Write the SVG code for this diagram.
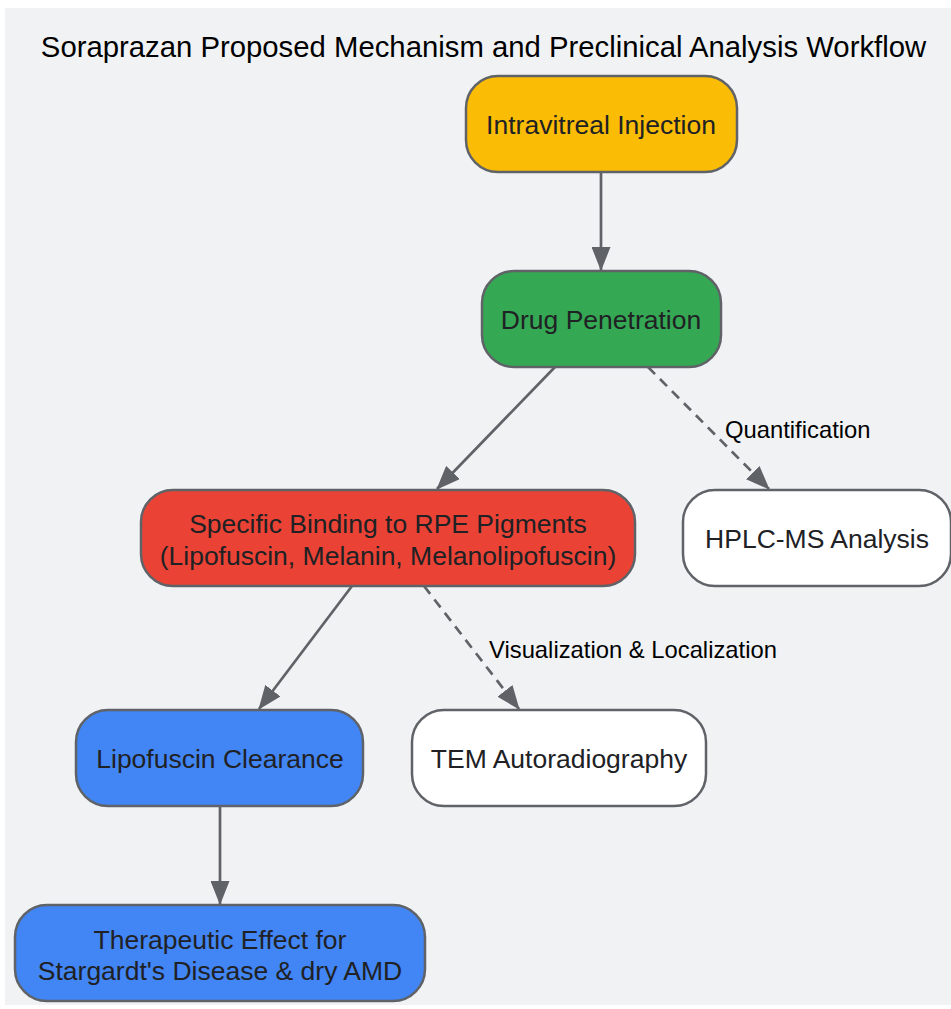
<svg xmlns="http://www.w3.org/2000/svg" width="951" height="1009" viewBox="0 0 951 1009">
<defs>
<style>
.node rect{stroke:#5F6368;stroke-width:2.5}
.nt{font-family:"Liberation Sans",Arial,sans-serif;font-size:26.5px;fill:#202124;text-anchor:middle}
.title{font-family:"Liberation Sans",Arial,sans-serif;font-size:29.3px;fill:#000;text-anchor:middle}
.el{font-family:"Liberation Sans",Arial,sans-serif;font-size:23.8px;fill:#000}
.edge{stroke:#5F6368;stroke-width:2.7;fill:none}
.dash{stroke-dasharray:10,7}
</style>
<marker id="arr" viewBox="0 0 24 19" refX="23" refY="9.5" markerWidth="24" markerHeight="19" markerUnits="userSpaceOnUse" orient="auto">
<path d="M0,0 L24,9.5 L0,19 z" fill="#5F6368"/>
</marker>
</defs>
<rect x="0" y="0" width="951" height="1009" fill="#fff"/>
<rect x="5" y="8" width="946" height="997" fill="#F1F2F4"/>
<text class="title" x="483.5" y="57">Soraprazan Proposed Mechanism and Preclinical Analysis Workflow</text>
<g id="connectors">
<line class="edge" x1="601" y1="172" x2="601" y2="270" marker-end="url(#arr)"/>
<line class="edge" x1="555" y1="367" x2="437" y2="489" marker-end="url(#arr)"/>
<line class="edge dash" x1="648" y1="367" x2="769" y2="489" marker-end="url(#arr)"/>
<line class="edge" x1="352" y1="586" x2="259" y2="709" marker-end="url(#arr)"/>
<line class="edge dash" x1="424" y1="586" x2="519" y2="709" marker-end="url(#arr)"/>
<line class="edge" x1="220" y1="806" x2="220" y2="904" marker-end="url(#arr)"/>
<text class="el" x="725" y="438">Quantification</text>
<text class="el" x="489" y="658">Visualization &amp; Localization</text>
</g>
<g id="intravitreal" class="node">
<rect x="466" y="76" width="271" height="96" rx="32" fill="#FBBC05"/>
<text class="nt" x="601" y="133.5">Intravitreal Injection</text>
</g>
<g id="penetration" class="node">
<rect x="482" y="271" width="239" height="96" rx="32" fill="#34A853"/>
<text class="nt" x="601" y="328.5">Drug Penetration</text>
</g>
<g id="binding" class="node">
<rect x="141" y="490" width="494" height="96" rx="32" fill="#EA4335"/>
<text class="nt" x="388" y="532.5">Specific Binding to RPE Pigments</text>
<text class="nt" x="388" y="564.5">(Lipofuscin, Melanin, Melanolipofuscin)</text>
</g>
<g id="hplc" class="node">
<rect x="683" y="490" width="268" height="96" rx="32" fill="#fff"/>
<text class="nt" x="817" y="548">HPLC-MS Analysis</text>
</g>
<g id="lipofuscin" class="node">
<rect x="76" y="710" width="287" height="96" rx="32" fill="#4285F4"/>
<text class="nt" x="220" y="768">Lipofuscin Clearance</text>
</g>
<g id="tem" class="node">
<rect x="412" y="710" width="294" height="96" rx="32" fill="#fff"/>
<text class="nt" x="559" y="768">TEM Autoradiography</text>
</g>
<g id="therapeutic" class="node">
<rect x="15" y="905" width="410" height="96" rx="32" fill="#4285F4"/>
<text class="nt" x="220" y="948.5">Therapeutic Effect for</text>
<text class="nt" x="220" y="980">Stargardt's Disease &amp; dry AMD</text>
</g>
</svg>
